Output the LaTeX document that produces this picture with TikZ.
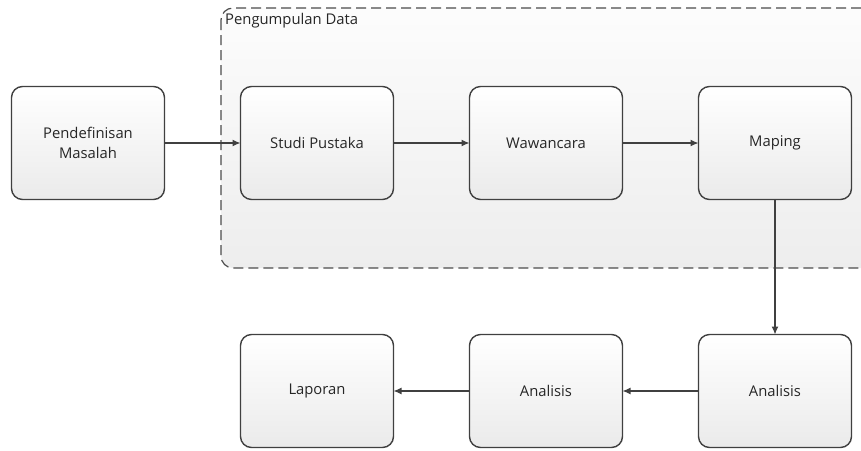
\documentclass[tikz,border=0pt]{standalone}
\usepackage{fontspec}
\setmainfont{Open Sans}
\usepackage{tikz}
\usetikzlibrary{arrows.meta}
\usetikzlibrary{positioning}

\begin{document}
\begin{tikzpicture}[x=1pt,y=-1pt,
  node distance=76pt,
  every node/.style={align=center,font=\fontsize{14.8pt}{20pt}\selectfont,text=black!85},
  tahap/.style={draw=black!75,line width=1.4pt,rounded corners=11pt,outer sep=0pt,
    minimum width=153pt,minimum height=113pt,inner sep=0pt,
    top color=white,bottom color=black!8},
  panah/.style={draw=black!75,line width=1.2pt,-{Latex[length=8pt,width=7pt]}}]
\clip (0,0) rectangle (861,450);
% area pengumpulan data
\draw[black!70,line width=1.2pt,dash pattern=on 10pt off 5pt,rounded corners=12pt,
  top color=black!1,bottom color=black!7] (221,8) rectangle (880,268);
\node[anchor=north west,inner sep=0pt] (judul) at (225,13) {Pengumpulan Data};
% baris atas
\node[tahap] (masalah) at (88,143) {Pendefinisan\\Masalah};
\node[tahap,right=of masalah] (studi) {Studi Pustaka};
\node[tahap,right=of studi] (wawancara) {Wawancara};
\node[tahap,right=of wawancara] (maping) {Maping};
% baris bawah
\node[tahap,below=135pt of maping] (analisis1) {Analisis};
\node[tahap,left=of analisis1] (analisis2) {Analisis};
\node[tahap,left=of analisis2] (laporan) {Laporan};
% alur
\draw[panah] (masalah) -- (studi);
\draw[panah] (studi) -- (wawancara);
\draw[panah] (wawancara) -- (maping);
\draw[panah] (maping) -- (analisis1);
\draw[panah] (analisis1) -- (analisis2);
\draw[panah] (analisis2) -- (laporan);
\end{tikzpicture}
\end{document}
